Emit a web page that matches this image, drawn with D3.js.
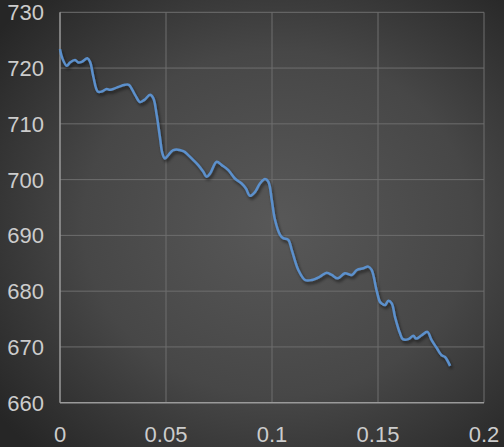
<!DOCTYPE html>
<html><head><meta charset="utf-8">
<script src="https://cdn.jsdelivr.net/npm/d3@7"></script>
<style>html,body{margin:0;padding:0;background:#333;}svg{display:block;}</style>
</head><body>
<script>
const xVals = [0,0.0011,0.0032,0.0047,0.0071,0.0086,0.0102,0.0129,0.0142,0.0157,0.0178,0.0197,0.0220,0.0236,0.0267,0.0307,0.0325,0.0354,0.0377,0.0398,0.0425,0.0440,0.0456,0.0472,0.0483,0.0495,0.0511,0.0534,0.0582,0.0605,0.0629,0.0652,0.0676,0.0692,0.0708,0.0739,0.0763,0.0794,0.0825,0.0857,0.0877,0.0896,0.0920,0.0943,0.0967,0.0983,0.0999,0.1014,0.1038,0.1053,0.1077,0.1093,0.1124,0.1156,0.1187,0.1226,0.1258,0.1282,0.1310,0.1344,0.1376,0.1400,0.1431,0.1454,0.1470,0.1494,0.1509,0.1517,0.1533,0.1549,0.1565,0.1580,0.1604,0.1617,0.1643,0.1667,0.1679,0.1706,0.1733,0.1753,0.1777,0.1800,0.1816,0.1840];
const yVals = [723.4,721.75,720.4,721.0,721.45,721.0,721.1,721.75,721.1,718.5,715.8,715.8,716.25,716.1,716.5,717.0,717.0,715.2,713.9,714.3,715.2,714.6,711.6,707.4,704.7,703.8,704.4,705.3,705.1,704.4,703.5,702.6,701.4,700.5,701.1,703.2,702.6,701.7,700.2,699.3,698.4,697.1,697.8,699.3,700.1,699.6,696.3,692.8,690.1,689.5,689.2,687.4,683.8,682.0,682.0,682.6,683.3,682.9,682.3,683.2,682.9,683.8,684.1,684.4,683.8,680.0,678.1,677.8,677.5,678.3,677.8,675.4,672.4,671.4,671.4,672.0,671.5,672.1,672.7,671.2,669.8,668.5,668.2,666.6];
const xTicks = [0,0.05,0.1,0.15,0.2];
const xTickLabels = ["0","0.05","0.1","0.15","0.2"];
const yTicks = [660,670,680,690,700,710,720,730];

const W = 504, H = 447;
const m = {left:60, right:20, top:12.3, bottom:44.3};
const svg = d3.select("body").append("svg").attr("width",W).attr("height",H);
const defs = svg.append("defs");
const rg = defs.append("radialGradient").attr("id","bg").attr("cx","55%").attr("cy","50%").attr("r","70%");
rg.append("stop").attr("offset","0%").attr("stop-color","#585858");
rg.append("stop").attr("offset","55%").attr("stop-color","#474747");
rg.append("stop").attr("offset","100%").attr("stop-color","#262626");
const f = defs.append("filter").attr("id","sh").attr("x","-10%").attr("y","-10%").attr("width","120%").attr("height","120%");
f.append("feDropShadow").attr("dx",1.5).attr("dy",2.5).attr("stdDeviation",1.8).attr("flood-color","#000").attr("flood-opacity",0.55);

svg.append("rect").attr("width",W).attr("height",H).attr("fill","url(#bg)");

const x = d3.scaleLinear().domain([0,0.2]).range([m.left, W-m.right]);
const y = d3.scaleLinear().domain([660,730]).range([H-m.bottom, m.top]);

const g = svg.append("g");
g.selectAll(".gx").data(xTicks.slice(1)).join("line")
  .attr("x1",d=>x(d)).attr("x2",d=>x(d)).attr("y1",y(660)).attr("y2",y(730))
  .attr("stroke","#6e6e6e").attr("stroke-width",1);
g.selectAll(".gy").data(yTicks.slice(1)).join("line")
  .attr("x1",x(0)).attr("x2",x(0.2)).attr("y1",d=>y(d)).attr("y2",d=>y(d))
  .attr("stroke","#6e6e6e").attr("stroke-width",1);

// axes
g.append("line").attr("x1",x(0)).attr("x2",x(0)).attr("y1",y(660)).attr("y2",y(730)).attr("stroke","#9a9a9a").attr("stroke-width",1.5);
g.append("line").attr("x1",x(0)).attr("x2",x(0.2)).attr("y1",y(660)).attr("y2",y(660)).attr("stroke","#9a9a9a").attr("stroke-width",1.5);

const font = "'Liberation Sans', Arial, sans-serif";
g.selectAll(".yl").data(yTicks).join("text")
  .attr("x",m.left-16).attr("y",d=>y(d)).attr("dy","0.36em")
  .attr("text-anchor","end").attr("font-family",font).attr("font-size",22)
  .attr("fill","#cccccc").text(d=>d);
g.selectAll(".xl").data(xTicks).join("text")
  .attr("x",d=>x(d)).attr("y",y(660)+39)
  .attr("text-anchor","middle").attr("font-family",font).attr("font-size",22)
  .attr("fill","#cccccc").text((d,i)=>xTickLabels[i]);

const data = xVals.map((v,i)=>[v,yVals[i]]);
const line = d3.line().x(d=>x(d[0])).y(d=>y(d[1])).curve(d3.curveCatmullRom.alpha(0.5));
svg.append("path").datum(data).attr("d",line).attr("fill","none")
  .attr("stroke","#5b90cc").attr("stroke-width",2.5).attr("stroke-linejoin","round")
  .attr("filter","url(#sh)");
</script>
</body></html>
